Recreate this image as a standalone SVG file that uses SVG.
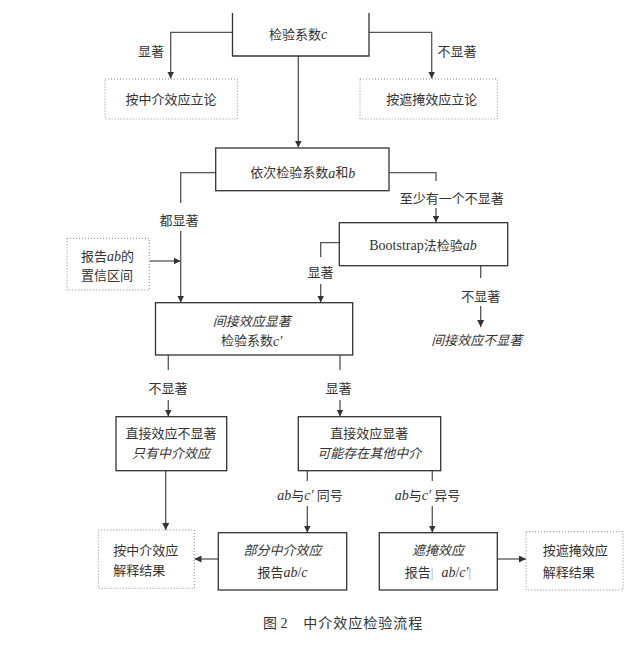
<svg xmlns="http://www.w3.org/2000/svg" width="644" height="665" viewBox="0 0 644 665">
<defs>
<style>
text{font-family:"Liberation Serif","Noto Sans CJK SC",serif;font-size:13px;fill:#333;dominant-baseline:central}
.c{text-anchor:middle}
.i{font-style:italic}
.l{font-size:14px}
.box{fill:#fff;stroke:#333;stroke-width:1.3}
.dot{fill:#fff;stroke:#888;stroke-width:1;stroke-dasharray:1 2}
.ln{fill:none;stroke:#555;stroke-width:1.3}
.cap{font-size:14px}
</style>
<marker id="ah" viewBox="0 0 10 10" refX="10" refY="5" markerWidth="7" markerHeight="7" markerUnits="userSpaceOnUse" orient="auto">
<path d="M0,0 L10,5 L0,10 z" fill="#333"/>
</marker>
</defs>
<rect width="644" height="665" fill="#fff"/>

<g id="connectors">
<path class="ln" d="M232.5,32.3 H170.7 V78.5" marker-end="url(#ah)"/>
<path class="ln" d="M369,32.3 H431.7 V78.5" marker-end="url(#ah)"/>
<path class="ln" d="M298.3,56 V147.5" marker-end="url(#ah)"/>
<path class="ln" d="M215.7,172.7 H180.7 V203"/>
<path class="ln" d="M180.7,231 V302.5" marker-end="url(#ah)"/>
<path class="ln" d="M149.3,261 H180.5" marker-end="url(#ah)"/>
<path class="ln" d="M389,172.7 H436 V181"/>
<path class="ln" d="M436,208 V222.5" marker-end="url(#ah)"/>
<path class="ln" d="M339.3,242.7 H320.7 V257"/>
<path class="ln" d="M320.7,284 V302.5" marker-end="url(#ah)"/>
<path class="ln" d="M480.7,265.7 V278"/>
<path class="ln" d="M480.7,306 V327" marker-end="url(#ah)"/>
<path class="ln" d="M168.3,355 V370"/>
<path class="ln" d="M168.3,400 V416.5" marker-end="url(#ah)"/>
<path class="ln" d="M340,355 V370"/>
<path class="ln" d="M340,400 V416.5" marker-end="url(#ah)"/>
<path class="ln" d="M165.7,470.7 V530" marker-end="url(#ah)"/>
<path class="ln" d="M307.3,470.7 V481"/>
<path class="ln" d="M307.3,506 V532.5" marker-end="url(#ah)"/>
<path class="ln" d="M432.3,470.7 V481"/>
<path class="ln" d="M432.3,506 V532.5" marker-end="url(#ah)"/>
<path class="ln" d="M218.3,559 H194.5" marker-end="url(#ah)"/>
<path class="ln" d="M497.3,559 H526" marker-end="url(#ah)"/>
</g>

<g id="labels">
<text class="c" x="151" y="51">显著</text>
<text class="c" x="457" y="51">不显著</text>
<text class="c" x="179" y="220">都显著</text>
<text class="c" x="451.7" y="198.3">至少有一个不显著</text>
<text class="c" x="320.5" y="272.7">显著</text>
<text class="c" x="480.7" y="296">不显著</text>
<text class="c" x="168" y="388">不显著</text>
<text class="c" x="338.5" y="388">显著</text>
<text class="c" x="310" y="495"><tspan class="i l">ab</tspan>与<tspan class="i l">c′</tspan> 同号</text>
<text class="c" x="427.5" y="495"><tspan class="i l">ab</tspan>与<tspan class="i l">c′</tspan> 异号</text>
</g>

<g id="n-test-c">
<path class="box" d="M232.5,13 V56 H369 V13"/>
<text class="c" x="298" y="34">检验系数<tspan class="i l">c</tspan></text>
</g>
<g id="n-mediation-claim">
<rect class="dot" x="105" y="79" width="132.3" height="40"/>
<text class="c" x="171" y="99.5">按中介效应立论</text>
</g>
<g id="n-masking-claim">
<rect class="dot" x="360" y="79" width="137.3" height="40"/>
<text class="c" x="431.7" y="99.5">按遮掩效应立论</text>
</g>
<g id="n-test-ab">
<rect class="box" x="215.7" y="148" width="173.3" height="42.7"/>
<text class="c" x="302.7" y="172.7">依次检验系数<tspan class="i l">a</tspan>和<tspan class="i l">b</tspan></text>
</g>
<g id="n-ci">
<rect class="dot" x="67" y="238.3" width="82.3" height="51.7"/>
<text x="81" y="256">报告<tspan class="i l">ab</tspan>的</text>
<text x="81" y="275.7">置信区间</text>
</g>
<g id="n-bootstrap">
<rect class="box" x="339.3" y="222.7" width="168.4" height="43"/>
<text class="c" x="423" y="245"><tspan class="l">Bootstrap</tspan>法检验<tspan class="i l">ab</tspan></text>
</g>
<g id="n-indirect-ns">
<text class="c i" x="476.7" y="340">间接效应不显著</text>
</g>
<g id="n-indirect-sig">
<rect class="box" x="155.5" y="302.7" width="197.2" height="52.3"/>
<text class="c i" x="251.7" y="321.7">间接效应显著</text>
<text class="c" x="251.7" y="340.7">检验系数<tspan class="i l">c′</tspan></text>
</g>
<g id="n-direct-ns">
<rect class="box" x="116" y="416.7" width="110.7" height="54"/>
<text class="c" x="171" y="433">直接效应不显著</text>
<text class="c i" x="171" y="453.3">只有中介效应</text>
</g>
<g id="n-direct-sig">
<rect class="box" x="298.3" y="416.7" width="142.4" height="54"/>
<text class="c" x="369.3" y="433.3">直接效应显著</text>
<text class="c i" x="369.3" y="453.3">可能存在其他中介</text>
</g>
<g id="n-explain-mediation">
<rect class="dot" x="98.3" y="530" width="96" height="58.3"/>
<text x="113.3" y="550.7">按中介效应</text>
<text x="113.3" y="570.5">解释结果</text>
</g>
<g id="n-partial">
<rect class="box" x="218.3" y="532.7" width="128.4" height="57.3"/>
<text class="c i" x="282.5" y="550.7">部分中介效应</text>
<text class="c" x="282.5" y="572.3">报告<tspan class="i l">ab</tspan><tspan class="l">/</tspan><tspan class="i l">c</tspan></text>
</g>
<g id="n-masking">
<rect class="box" x="379.3" y="532.7" width="118" height="57.3"/>
<text class="c i" x="438" y="550.7">遮掩效应</text>
<text class="c" x="438" y="572.3">报告<tspan fill="#999">|</tspan><tspan class="i l" dx="8">ab</tspan><tspan class="l">/</tspan><tspan class="i l">c′</tspan><tspan fill="#999">|</tspan></text>
</g>
<g id="n-explain-masking">
<rect class="dot" x="526" y="531.7" width="97" height="58.3"/>
<text x="542.7" y="550.7">按遮掩效应</text>
<text x="542.7" y="572.3">解释结果</text>
</g>

<g id="caption">
<text class="cap" x="263" y="623.3">图 2</text>
<text class="cap" x="303.3" y="623.3" letter-spacing="1">中介效应检验流程</text>
</g>
</svg>
